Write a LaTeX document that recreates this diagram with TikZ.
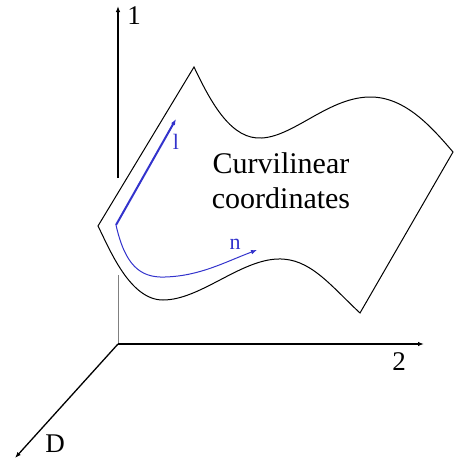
\documentclass[tikz,border=0pt]{standalone}
\usepackage{fontspec}
\setmainfont{Liberation Serif}
\usetikzlibrary{arrows.meta}
\definecolor{CurvBlue}{HTML}{3333CC}

\tikzset{
  axis/.style={line width=1.3pt,-{Latex[length=6pt,width=4.5pt]}},
  axislabel/.style={font=\fontsize{27}{27}\selectfont},
  dirlabel/.style={font=\fontsize{22}{22}\selectfont,text=CurvBlue},
}

\begin{document}
\begin{tikzpicture}[x=1pt,y=-1pt]
  \useasboundingbox (0,0) rectangle (454,461);
  % axes
  \coordinate (o) at (118,344);
  \coordinate (gaplow) at (118,275);
  \coordinate (gaphigh) at (118,178);
  \coordinate (ytip) at (118,6);
  \coordinate (xtip) at (424,344);
  \coordinate (dtip) at (15,458);
  \draw[gray,line width=0.9pt] (o) -- (gaplow);
  \draw[axis] (gaphigh) -- (ytip);
  \draw[axis] (o) -- (xtip);
  \draw[axis] (o) -- (dtip);
  \node[axislabel] (one) at (134,16) {1};
  \node[axislabel] (two) at (399,362) {2};
  \node[axislabel] (dee) at (55,444) {D};
  % surface
  \draw[line width=1pt] (98,226) -- (194,67)
    .. controls (212,105) and (232,140) .. (262,138)
    .. controls (295,136) and (330,96) .. (372,97)
    .. controls (405,98) and (430,125) .. (453,152)
    -- (360,313)
    .. controls (330,285) and (310,258) .. (278,259)
    .. controls (240,260) and (200,300) .. (163,300)
    .. controls (130,300) and (110,250) .. (98,226) -- cycle;
  \node[font=\fontsize{30}{35}\selectfont,align=center] (txt) at (281,181) {Curvilinear\\coordinates};
  % local directions
  \coordinate (c) at (116,225);
  \coordinate (ltip) at (176,119);
  \coordinate (ntip) at (257,250);
  \draw[CurvBlue,line width=2pt,-{Latex[length=6pt,width=4.5pt]}] (c) -- (ltip);
  \draw[CurvBlue,line width=1pt,-{Latex[length=6pt,width=4.5pt]}] (c)
    .. controls (125,265) and (140,278) .. (165,277)
    .. controls (200,276) and (225,262) .. (ntip);
  \node[dirlabel] (ell) at (176,142) {l};
  \node[dirlabel] (en) at (235,244) {n};
\end{tikzpicture}
\end{document}
